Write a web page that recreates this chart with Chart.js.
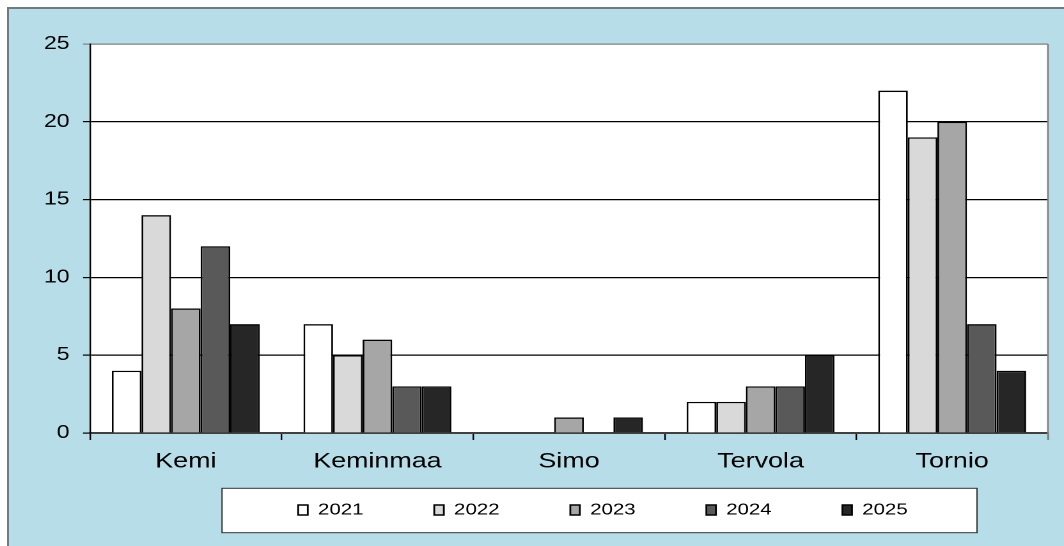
<!DOCTYPE html>
<html lang="fi">
<head>
<meta charset="UTF-8">
<title>Kunnat 2021–2025</title>
<script src="https://cdn.jsdelivr.net/npm/chart.js"></script>
<style>
  html, body { margin: 0; padding: 0; background: #fff; }
  body { width: 1064px; height: 546px; overflow: hidden; position: relative; }
  .frame {
    position: absolute; left: 7px; top: 7px; right: -10px; bottom: -10px;
    background: #b7dde8;
    border-top: 2px solid #6f7b7f; border-left: 2px solid #6f7b7f;
  }
  /* the original picture is stretched sideways, so the canvas is too */
  .wrap {
    position: absolute; left: 0; top: 0; width: 832px; height: 546px;
    transform: scaleX(1.2788); transform-origin: 0 0;
  }
</style>
</head>
<body>
<div class="frame"></div>
<div class="wrap"><canvas id="chart" width="832" height="546"></canvas></div>
<script>
const categories = ['Kemi', 'Keminmaa', 'Simo', 'Tervola', 'Tornio'];
const years = ['2021', '2022', '2023', '2024', '2025'];
const values2021 = [4, 7, 0, 2, 22];
const values2022 = [14, 5, 0, 2, 19];
const values2023 = [8, 6, 1, 3, 20];
const values2024 = [12, 3, 0, 3, 7];
const values2025 = [7, 3, 1, 5, 4];
const yTicks = [0, 5, 10, 15, 20, 25];

const series = [values2021, values2022, values2023, values2024, values2025];
const fills = ['#ffffff', '#d9d9d9', '#a6a6a6', '#595959', '#262626'];

Chart.defaults.font.family = '"Liberation Sans", Arial, sans-serif';
Chart.defaults.color = '#000';

const backdrop = {
    id: 'backdrop',
    afterLayout(chart) {
        // centre the legend row inside its box
        const lg = chart.legend;
        const half = (lg.right - lg.left) / 2;
        lg.left = 471.5 - half;
        lg.right = 471.5 + half;
        lg.top = 446.7;
    },
    beforeDraw(chart) {
        const { ctx, chartArea: a } = chart;
        ctx.save();
        ctx.fillStyle = '#fff';
        ctx.fillRect(a.left, a.top, a.right - a.left, a.bottom - a.top);
        ctx.fillRect(173.6, 488.3, 590.4, 44.4);
        ctx.strokeStyle = '#333';
        ctx.lineWidth = 1;
        ctx.strokeRect(173.6, 488.3, 590.4, 44.4);
        ctx.restore();
    },
    afterDraw(chart) {
        const { ctx, chartArea: a } = chart;
        ctx.save();
        ctx.strokeStyle = '#808080';
        ctx.lineWidth = 1.3;
        ctx.beginPath();
        ctx.moveTo(a.right, a.top);
        ctx.lineTo(a.right, a.bottom + 7);
        ctx.stroke();
        ctx.restore();
    }
};

new Chart(document.getElementById('chart'), {
    type: 'bar',
    data: {
        labels: categories,
        datasets: years.map((y, i) => ({
            label: y,
            data: series[i],
            backgroundColor: fills[i],
            borderColor: '#000',
            borderWidth: 1.4,
            categoryPercentage: 0.772,
            barPercentage: 1.0
        }))
    },
    options: {
        responsive: false,
        animation: false,
        devicePixelRatio: 2,
        layout: { padding: { top: 44, right: 12.5, left: 0, bottom: 0 } },
        plugins: {
            tooltip: { enabled: false },
            legend: {
                position: 'bottom',
                maxHeight: 30,
                labels: {
                    boxWidth: 7.5,
                    boxHeight: 10,
                    padding: 55.3,
                    font: { size: 16 },
                    color: '#000'
                }
            }
        },
        scales: {
            x: {
                afterFit(s) { s.height = 83; },
                grid: { drawOnChartArea: false, tickLength: 7, color: '#000', lineWidth: 1.2 },
                border: { color: '#404040', width: 2 },
                ticks: { font: { size: 21 }, padding: 9, color: '#000' }
            },
            y: {
                min: 0,
                max: 25,
                afterFit(s) { s.width = 70.4; },
                afterBuildTicks(s) { s.ticks = yTicks.map(v => ({ value: v })); },
                grid: {
                    tickLength: 5.5,
                    lineWidth: 1.2,
                    color: c => (c.tick && c.tick.value === 25 ? '#808080' : '#000')
                },
                border: { color: '#000', width: 1.2 },
                ticks: { font: { size: 18 }, padding: 10.5, color: '#000' }
            }
        }
    },
    plugins: [backdrop]
});
</script>
</body>
</html>
